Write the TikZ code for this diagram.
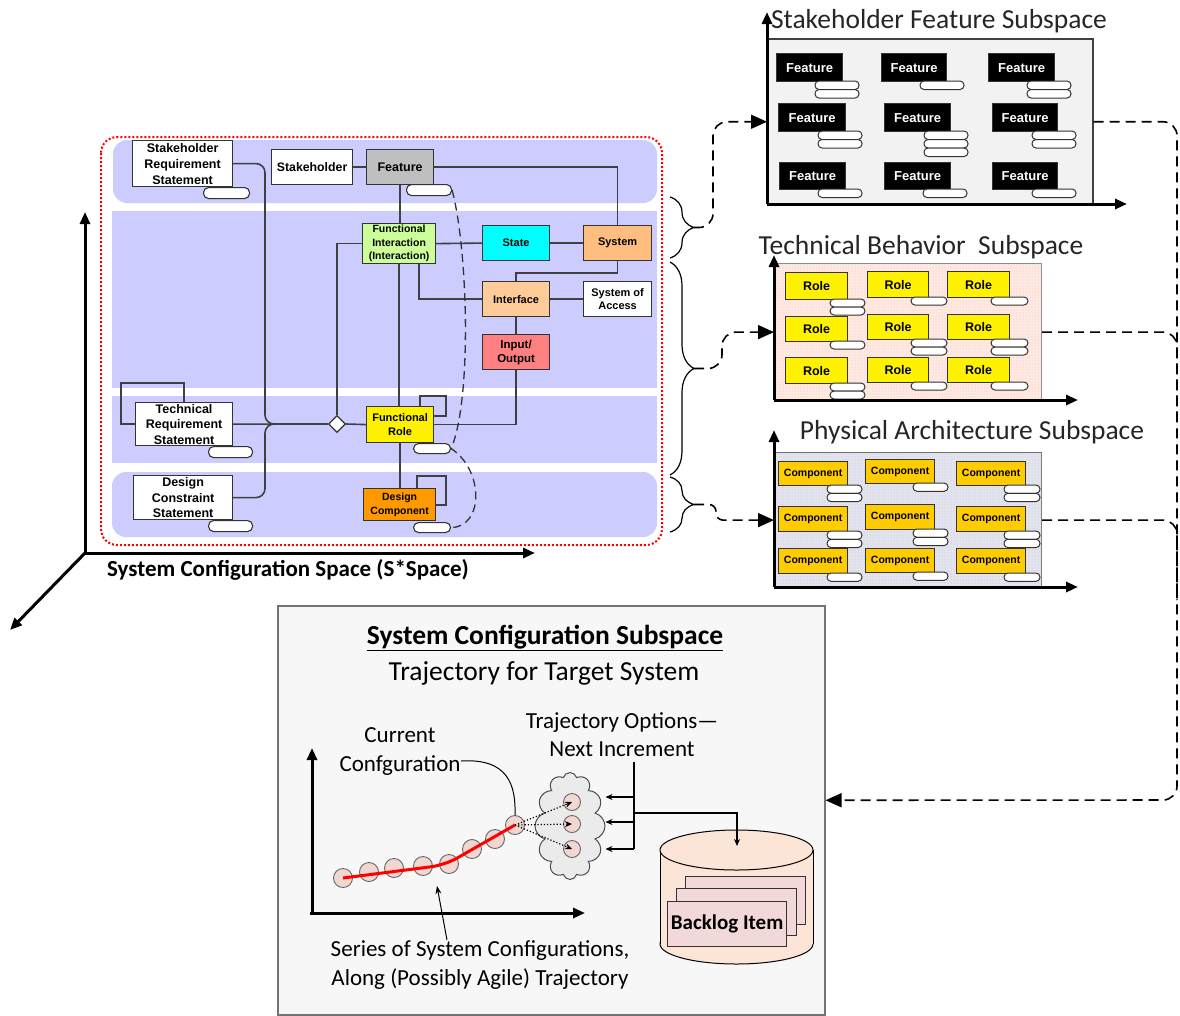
\documentclass[tikz,border=0pt]{standalone}
\usepackage{fontspec}
\setmainfont{Carlito}
\newfontfamily\arl{Liberation Sans}
\usetikzlibrary{arrows.meta,shapes.geometric,shapes.symbols,decorations.pathreplacing,patterns,calc}
\definecolor{band}{RGB}{204,204,255}
\definecolor{featgray}{RGB}{191,191,191}
\definecolor{figreen}{RGB}{204,255,153}
\definecolor{stcyan}{RGB}{0,255,255}
\definecolor{sysor}{RGB}{255,190,125}
\definecolor{intfor}{RGB}{255,204,153}
\definecolor{iored}{RGB}{255,128,128}
\definecolor{dcor}{RGB}{255,153,0}
\definecolor{compy}{RGB}{255,204,0}
\definecolor{tbfill}{RGB}{253,234,226}
\definecolor{pafill}{RGB}{228,228,240}
\definecolor{ptfill}{RGB}{242,214,210}
\definecolor{peach}{RGB}{252,228,214}
\definecolor{card}{RGB}{242,216,216}
\newcommand\fs[2]{\fontsize{#1}{#2}\selectfont}
\newcommand\tabs[5]{\foreach \k in {1,...,#5}{\draw[tabst] (#1,{#2+(\k-1)*#4}) rectangle ++(#3,#4);}}
\newcommand\cellbox[7]{\node[#2, minimum width=#5pt, minimum height=#6pt] (#1) at (#3,#4) {#7};}
\begin{document}
\begin{tikzpicture}[x=1pt,y=-1pt,
  bx/.style={draw=black!80, line width=1.2pt, inner sep=0pt, anchor=north west, align=center},
  lp/.style={bx, font=\arl\bfseries\fs{11}{13.5}},
  feat/.style={bx, fill=black, text=white, font=\arl\bfseries\fs{13}{14}},
  role/.style={bx, fill=yellow, font=\arl\bfseries\fs{12.5}{14}},
  comp/.style={bx, fill=compy, font=\arl\bfseries\fs{10.5}{12}},
  tabst/.style={draw=black!80, fill=white, line width=1pt, rounded corners=4pt},
  tabn/.style={draw=black!80, fill=white, line width=1.1pt, rounded corners=5pt, anchor=north west, inner sep=0pt},
  conn/.style={draw=black!75, line width=1.6pt},
  axisln/.style={line width=3pt, -{Triangle[length=12pt,width=10pt]}},
  dconn/.style={line width=1.6pt, dash pattern=on 10pt off 6pt, rounded corners=14pt, -{Triangle[length=16pt,width=14pt]}},
  ttl/.style={font=\fs{27.5}{30}, text=black!85, inner sep=0pt},
  pt/.style={circle, draw=black!60, fill=ptfill, line width=0.9pt, inner sep=0pt},
  thinarr/.style={line width=1.2pt, -{Stealth[length=7pt,width=6pt]}},
]
\useasboundingbox (0,0) rectangle (1180,1015);
\fill[white] (0,0) rectangle (1180,1015);

% ---------------- left panel ----------------
\fill[band, rounded corners=14pt] (113,140) rectangle (657,203);
\fill[band] (112,211) rectangle (657,388);
\fill[band] (112,396) rectangle (657,463);
\fill[band, rounded corners=14pt] (112,472) rectangle (657,537);
\draw[red, dotted, line width=2pt, rounded corners=16pt] (101,137) rectangle (662,545);

\node[lp, fill=white, minimum width=100pt, minimum height=46pt, font=\arl\bfseries\fs{12.5}{16}] (srs) at (132,140) {Stakeholder\\Requirement\\Statement};
\node[lp, fill=white, minimum width=81pt, minimum height=35pt, font=\arl\bfseries\fs{12.3}{14}] (stk) at (271,149) {Stakeholder};
\node[lp, fill=featgray, minimum width=67pt, minimum height=35pt, font=\arl\bfseries\fs{12.5}{14}] (feat) at (366,149) {Feature};
\node[lp, fill=figreen, minimum width=73pt, minimum height=40pt, font=\arl\bfseries\fs{10.5}{13.5}] (fi) at (362,223) {Functional\\Interaction\\(Interaction)};
\node[lp, fill=stcyan, minimum width=67pt, minimum height=35pt] (state) at (482,225) {State};
\node[lp, fill=sysor, minimum width=68pt, minimum height=35pt] (sys) at (583,225) {System};
\node[lp, fill=intfor, minimum width=67pt, minimum height=35pt] (intf) at (482,281) {Interface};
\node[lp, fill=white, minimum width=68pt, minimum height=35pt] (soa) at (583,281) {System of\\Access};
\node[lp, fill=iored, minimum width=67pt, minimum height=35pt, font=\arl\bfseries\fs{11.5}{14}] (io) at (482,334) {Input/\\Output};
\node[lp, fill=yellow, minimum width=67pt, minimum height=36pt] (fr) at (366,406) {Functional\\Role};
\node[lp, fill=white, minimum width=97pt, minimum height=43pt, font=\arl\bfseries\fs{12.5}{15.5}] (trs) at (135,402) {Technical\\Requirement\\Statement};
\node[lp, fill=white, minimum width=99pt, minimum height=44pt, font=\arl\bfseries\fs{12.5}{15.5}] (dcs) at (133,475) {Design\\Constraint\\Statement};
\node[lp, fill=dcor, minimum width=72pt, minimum height=32pt, font=\arl\bfseries\fs{10.5}{13.5}] (dc) at (363,488) {Design\\Component};
\node[diamond, draw=black!80, fill=white, line width=1.2pt, minimum width=17pt, minimum height=17pt, inner sep=0pt] (dia) at (337,424) {};

\node[tabn, minimum width=46pt, minimum height=11pt] (srstab) at (203,187) {};
\node[tabn, minimum width=45pt, minimum height=11pt] (feattab) at (406,184) {};
\node[tabn, minimum width=37pt, minimum height=10pt] (frtab) at (413,443) {};
\node[tabn, minimum width=44pt, minimum height=11pt] (trstab) at (208,446) {};
\node[tabn, minimum width=44pt, minimum height=11pt] (dcstab) at (208,520) {};
\node[tabn, minimum width=37pt, minimum height=10pt] (dctab) at (413,522) {};

\draw[conn, rounded corners=9pt] (srs.east) -| (265,424) -- (dia.west);
\draw[conn, rounded corners=9pt] (dcs.east) -| (265,424) -- (dia.west);
\draw[conn] (trs.east) -- (dia.west);
\draw[conn] (dia.east) -- (fr.west);
\draw[conn] (dia.north) |- (fi.west);
\draw[conn] (stk.east) -- (feat.west);
\draw[conn] (feat.east) -| (sys.north);
\draw[conn] (feat.south) -- (feat.south |- fi.north);
\draw[conn] (fi.east) -- (state.west);
\draw[conn] (state.east) -- (sys.west);
\draw[conn] ([xshift=20pt]fi.south) |- (intf.west);
\draw[conn] (sys.south) -- ++(0,12) -| (intf.north);
\draw[conn] (intf.east) -- (soa.west);
\draw[conn] (intf.south) -- (io.north);
\draw[conn] (io.south) |- (fr.east);
\draw[conn] (fi.south) -- (fi.south |- fr.north);
\draw[conn] (fr.south) -- (fr.south |- dc.north);
\draw[conn] ([xshift=-14pt]fr.north east) -- ++(0,-10) -- ++(26,0) -- ++(0,20) -- ++(-12,0);
\draw[conn] ([xshift=-19pt]dc.north east) -- ++(0,-12) -- ++(29,0) -- ++(0,29) -- ++(-10,0);
\draw[conn] ([xshift=49pt]trs.north west) -- ++(0,-19) -- ++(-63,0) -- ++(0,41) -- ++(14,0);
\draw[line width=1.3pt, dash pattern=on 8pt off 5pt, black!80] (feattab.east) .. controls (468,250) and (472,400) .. (frtab.east) .. controls (484,470) and (484,527) .. (dctab.east);

% axes of the configuration space
\draw[axisln] (85,553) -- (85,212);
\draw[axisln] (85,553) -- (535,553);
\draw[axisln] (85,553) -- (10,630);
\node[font=\bfseries\fs{23}{26}, inner sep=0pt] (scs) at (288,570) {System Configuration Space (S*Space)};

% braces
\coordinate (b1a) at (670,197); \coordinate (b1b) at (670,258);
\coordinate (b2a) at (670,262); \coordinate (b2b) at (670,475);
\coordinate (b3a) at (670,477); \coordinate (b3b) at (670,532);
\draw[line width=1.2pt, decorate, decoration={brace, amplitude=24pt}] (b1a) -- (b1b);
\draw[line width=1.2pt, decorate, decoration={brace, amplitude=24pt}] (b2a) -- (b2b);
\draw[line width=1.2pt, decorate, decoration={brace, amplitude=24pt}] (b3a) -- (b3b);
\coordinate (b1t) at (694,227.5);
\coordinate (b2t) at (694,368.5);
\coordinate (b3t) at (694,504.5);

% ---------------- Stakeholder Feature Subspace ----------------
\node[anchor=north west, draw=black!75, line width=1.5pt, fill=black!5, minimum width=325pt, minimum height=166pt, inner sep=0pt] (ssf) at (767,38) {};
\node[ttl] (t1) at (939,21) {Stakeholder Feature Subspace};
\cellbox{f11}{feat}{776}{53}{66}{28}{Feature}
\cellbox{f12}{feat}{881}{53}{65}{28}{Feature}
\cellbox{f13}{feat}{988}{53}{66}{28}{Feature}
\cellbox{f21}{feat}{778}{103}{67}{28}{Feature}
\cellbox{f22}{feat}{884}{103}{66}{28}{Feature}
\cellbox{f23}{feat}{992}{103}{65}{28}{Feature}
\cellbox{f31}{feat}{779}{162}{66}{27}{Feature}
\cellbox{f32}{feat}{884}{162}{66}{27}{Feature}
\cellbox{f33}{feat}{992}{162}{65}{27}{Feature}
\tabs{815}{81}{44}{8.5}{2}
\tabs{920}{81}{44}{8.5}{1}
\tabs{1027}{81}{44}{8.5}{2}
\tabs{818}{131}{44}{8.5}{2}
\tabs{924}{131}{44}{8.5}{3}
\tabs{1032}{131}{44}{8.5}{2}
\tabs{818}{189}{44}{8.5}{1}
\tabs{923}{189}{44}{8.5}{1}
\tabs{1032}{189}{44}{8.5}{1}
\draw[axisln] (767,204) -- (767,12);
\draw[axisln] (767,204) -- (1127,204);

% ---------------- Technical Behavior Subspace ----------------
\node[anchor=north west, draw=black!45, line width=1.2pt, fill=tbfill, postaction={pattern=dots, pattern color=red!30}, minimum width=267pt, minimum height=137pt, inner sep=0pt] (stb) at (774,263) {};
\node[ttl] (t2) at (921,247) {Technical Behavior \ Subspace};
\cellbox{r11}{role}{785}{272}{62}{27}{Role}
\cellbox{r12}{role}{867}{271}{61}{26}{Role}
\cellbox{r13}{role}{947}{271}{62}{26}{Role}
\cellbox{r21}{role}{785}{316}{62}{25}{Role}
\cellbox{r22}{role}{867}{314}{61}{25}{Role}
\cellbox{r23}{role}{947}{314}{62}{25}{Role}
\cellbox{r31}{role}{785}{357}{62}{26}{Role}
\cellbox{r32}{role}{867}{357}{61}{25}{Role}
\cellbox{r33}{role}{947}{357}{62}{25}{Role}
\tabs{830}{299}{35}{8}{2}
\tabs{911}{297}{36}{8}{1}
\tabs{991}{297}{37}{8}{1}
\tabs{830}{341}{35}{8}{1}
\tabs{911}{339}{36}{8}{2}
\tabs{991}{339}{37}{8}{2}
\tabs{830}{383}{35}{8}{2}
\tabs{911}{382}{36}{8}{1}
\tabs{991}{382}{37}{8}{1}
\draw[axisln] (774,400) -- (774,255);
\draw[axisln] (774,400) -- (1078,400);

% ---------------- Physical Architecture Subspace ----------------
\node[anchor=north west, draw=black!55, line width=1.2pt, fill=pafill, postaction={pattern=dots, pattern color=black!25}, minimum width=267pt, minimum height=135pt, inner sep=0pt] (spa) at (774,452) {};
\node[ttl] (t3) at (972,432) {Physical Architecture Subspace};
\cellbox{c11}{comp}{778}{461}{69}{24}{Component}
\cellbox{c12}{comp}{865}{459}{69}{24}{Component}
\cellbox{c13}{comp}{956}{461}{69}{24}{Component}
\cellbox{c21}{comp}{778}{506}{69}{25}{Component}
\cellbox{c22}{comp}{865}{504}{69}{25}{Component}
\cellbox{c23}{comp}{956}{506}{69}{25}{Component}
\cellbox{c31}{comp}{778}{548}{69}{25}{Component}
\cellbox{c32}{comp}{865}{548}{69}{24}{Component}
\cellbox{c33}{comp}{956}{548}{69}{25}{Component}
\tabs{827}{485}{35}{8.3}{2}
\tabs{913}{483}{35}{8.3}{1}
\tabs{1004}{485}{36}{8.3}{2}
\tabs{827}{531}{35}{8.3}{2}
\tabs{913}{529}{35}{8.3}{2}
\tabs{1004}{531}{36}{8.3}{2}
\tabs{827}{573}{35}{8.3}{1}
\tabs{913}{572}{35}{8.3}{1}
\tabs{1004}{573}{36}{8.3}{1}
\draw[axisln] (774,587) -- (774,430);
\draw[axisln] (774,587) -- (1078,587);

% ---------------- bottom panel ----------------
\node[anchor=north west, draw=black!55, line width=1.5pt, fill=black!3, minimum width=547pt, minimum height=409pt, inner sep=0pt] (bot) at (277,605) {};
\node[font=\bfseries\fs{27.5}{30}, inner sep=0pt] (bt) at (545,638) {\underline{System Configuration Subspace}};
\node[font=\fs{27.5}{30}, inner sep=0pt] (bs) at (544,673) {Trajectory for Target System};
\node[font=\fs{23}{29}, align=center, inner sep=0pt] (cur) at (400,752) {Current\\Confguration};
\node[font=\fs{23}{28}, align=center, inner sep=0pt] (opt) at (622,735) {Trajectory Options—\\Next Increment};
\node[font=\fs{23}{29}, align=center, inner sep=0pt] (ser) at (480,965) {Series of System Configurations,\\Along (Possibly Agile) Trajectory};

\draw[axisln] (312,915) -- (312,748);
\draw[axisln] (310,913) -- (585,913);

\node[cloud, cloud puffs=12, cloud ignores aspect, draw=black!70, fill=black!8, line width=1pt, minimum width=70pt, minimum height=107pt, inner sep=0pt] (cloud) at (570,826) {};

\node[pt, minimum size=19pt] (p1) at (343,878) {};
\node[pt, minimum size=19pt] (p2) at (369,872) {};
\node[pt, minimum size=19pt] (p3) at (394,868) {};
\node[pt, minimum size=19pt] (p4) at (423,866) {};
\node[pt, minimum size=19pt] (p5) at (449,864) {};
\node[pt, minimum size=19pt] (p6) at (472,849) {};
\node[pt, minimum size=19pt] (p7) at (495,839) {};
\node[pt, minimum size=19pt] (p8) at (515,825) {};
\node[pt, minimum size=17pt] (o1) at (572,802) {};
\node[pt, minimum size=17pt] (o2) at (572,824) {};
\node[pt, minimum size=17pt] (o3) at (572,849) {};
\draw[red, line width=3pt, rounded corners=14pt] (p1.center) -- (445,865) -- (p8.center);
\foreach \o in {o1,o2,o3}{\draw[line width=1.2pt, dotted, -{Stealth[length=7pt,width=6pt]}] (p8.center) -- (\o.center);}

\draw[line width=1pt] (461,761) .. controls (508,758) and (516,785) .. (p8.north);
\coordinate (sert) at (447,940);
\draw[line width=1pt, -{Stealth[length=8pt,width=6pt]}] (sert) -- (437,886);

\coordinate (vt) at (634,762);
\draw[line width=1.2pt] (vt) -- (634,849);
\draw[thinarr] (634,797) -- ([yshift=29pt]cloud.east);
\draw[thinarr] (634,822) -- ([yshift=4pt]cloud.east);
\draw[thinarr] (634,849) -- ([yshift=-23pt]cloud.east);

% backlog cylinder
\draw[line width=1pt, fill=peach] (736.5,944) ellipse [x radius=76.5pt, y radius=20pt];
\fill[peach] (660,850) rectangle (813,944);
\draw[line width=1pt] (660,850) -- (660,944) (813,850) -- (813,944);
\draw[line width=1pt, fill=peach] (736.5,850) ellipse [x radius=76.5pt, y radius=20pt];
\coordinate (cyltop) at (737,846);
\draw[thinarr] (634,813) -| (cyltop);
\node[anchor=north west, draw=black!80, fill=card, line width=1.2pt, minimum width=120pt, minimum height=48pt, inner sep=0pt] (k3) at (685,876) {};
\node[anchor=north west, draw=black!80, fill=card, line width=1.2pt, minimum width=120pt, minimum height=47pt, inner sep=0pt] (k2) at (676,888) {};
\node[anchor=north west, draw=black!80, fill=card, line width=1.2pt, minimum width=119pt, minimum height=45pt, inner sep=0pt, font=\bfseries\fs{21}{22}] (k1) at (667,901) {Backlog Item};

% dashed connectors
\draw[dconn] (b1t) -| ([xshift=-54pt]ssf.west) -- (ssf.west);
\draw[dconn] (b2t) -| ([xshift=-52pt]stb.west) -- (stb.west);
\draw[dconn, rounded corners=7pt] (b3t) -| ([xshift=-58pt]spa.west) -- (spa.west);
\draw[dconn] (ssf.east) -| (1177,800) -- ([yshift=10pt]bot.east);
\draw[dconn, -] (stb.east) -| (1177,420);
\draw[dconn, -] (spa.east) -| (1177,600);
\end{tikzpicture}
\end{document}
